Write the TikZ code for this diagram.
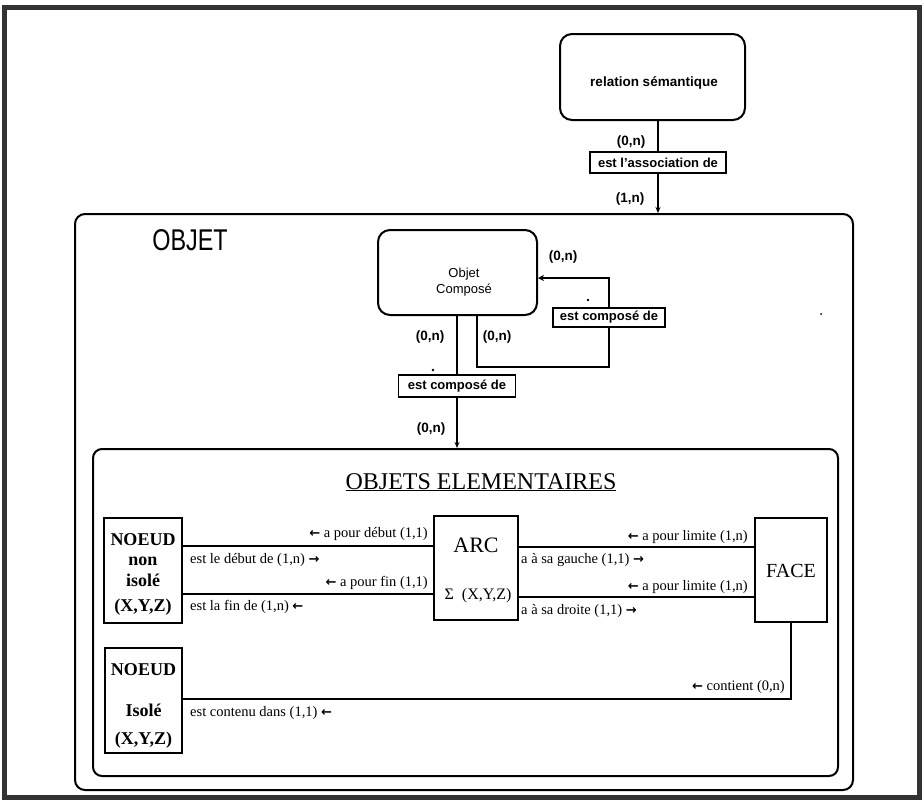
\documentclass[tikz,border=0pt]{standalone}
\usepackage{fontspec}
\usepackage{graphicx}
\setmainfont{Liberation Serif}
\setsansfont{Liberation Sans}
\newfontfamily\arrowfont{DejaVu Sans}
\usetikzlibrary{arrows.meta}
\newcommand{\lar}{{\arrowfont\bfseries\fontsize{13}{13}\selectfont ←}}
\newcommand{\rar}{{\arrowfont\bfseries\fontsize{13}{13}\selectfont →}}
\begin{document}
\begin{tikzpicture}[x=1pt,y=-1pt,
  rbox/.style={draw,line width=2pt,rounded corners=12pt,inner sep=0pt},
  sbox/.style={draw,line width=2.4pt,inner sep=0pt},
  relbox/.style={draw,line width=1.6pt,inner sep=0pt,font=\sffamily\bfseries\fontsize{13}{13}\selectfont},
  conn/.style={line width=1.8pt},
  tipd/.style={-{Stealth[length=6pt,width=5pt]}},
  sx/.style={font=\sffamily\bfseries\fontsize{13.5}{13.5}\selectfont,inner sep=0pt,anchor=base},
  smx/.style={font=\sffamily\fontsize{13}{13}\selectfont,inner sep=0pt,anchor=base},
  lbe/.style={font=\fontsize{14.5}{14.5}\selectfont,inner sep=0pt,anchor=base east},
  lbw/.style={font=\fontsize{14.5}{14.5}\selectfont,inner sep=0pt,anchor=base west},
  bt/.style={font=\bfseries\fontsize{18}{18}\selectfont,inner sep=0pt,anchor=base},
  st/.style={inner sep=0pt,anchor=base},
]
\useasboundingbox (0,0) rectangle (923,801);
\draw[line width=5pt,black!80] (4.5,7) rectangle (919.5,797);

% relation semantique
\node[rbox,minimum width=185pt,minimum height=86pt] (rel) at (652.5,77) {};
\node[sx] (relT) at (654,86) {relation sémantique};
\node[relbox,minimum width=136pt,minimum height=21pt] (assoc) at (658,162.5) {est l'association de};
\node[sx] (c1) at (631,145) {(0,n)};
\node[sx] (c2) at (630,202) {(1,n)};

% OBJET box
\node[rbox,rounded corners=10pt,minimum width=778pt,minimum height=576pt] (objet) at (464,502) {};
\node[st,font=\sffamily\fontsize{30}{30}\selectfont] (objT) at (190,250) {\scalebox{0.78}[1]{OBJET}};
\draw[conn] (assoc.north) -- (assoc.north |- rel.south);
\draw[conn,tipd] (assoc.south) -- (assoc.south |- objet.north);

% Objet compose
\node[rbox,minimum width=159pt,minimum height=85pt] (comp) at (457.5,272.5) {};
\node[smx] (compT1) at (464,277) {Objet};
\node[smx] (compT2) at (464,293) {Composé};
\node[relbox,minimum width=112pt,minimum height=19pt] (ecR) at (609,317.5) {est composé de};
\node[relbox,minimum width=117pt,minimum height=22pt] (ecL) at (457,386) {est composé de};
\node[sx] (c3) at (563,260) {(0,n)};
\node[sx] (c4) at (430,340) {(0,n)};
\node[sx] (c5) at (497,340) {(0,n)};
\node[sx] (c6) at (431,432) {(0,n)};
\fill (588,300) circle (1.3pt);
\fill (433,370) circle (1.3pt);
\fill (821,314) circle (1pt);

% inner box
\node[rbox,rounded corners=9pt,minimum width=745pt,minimum height=327pt] (inner) at (465.5,612.5) {};
\node[st,font=\fontsize{24}{24}\selectfont] (title) at (481,489) {\underline{OBJETS ELEMENTAIRES}};

\draw[conn,-{Stealth[length=6pt,width=6pt]}] (ecR.north) |- ([yshift=-5.5pt]comp.east);
\coordinate (lp) at (477,367);
\draw[conn] (ecR.south) |- (lp) -- (lp |- comp.south);
\draw[conn] (ecL.north) -- (ecL.north |- comp.south);
\draw[conn,tipd] (ecL.south) -- (ecL.south |- inner.north);

% elementary boxes
\node[sbox,minimum width=78pt,minimum height=105pt] (nn) at (143,570.5) {};
\node[sbox,minimum width=84pt,minimum height=104pt] (arc) at (476,568) {};
\node[sbox,minimum width=72pt,minimum height=104pt] (face) at (791,570) {};
\node[sbox,minimum width=77pt,minimum height=105pt] (ni) at (143.5,700.5) {};

\node[bt] (nn1) at (143,545) {NOEUD};
\node[bt] (nn2) at (143,565) {non};
\node[bt] (nn3) at (143,586) {isolé};
\node[bt] (nn4) at (143,611) {(X,Y,Z)};
\node[bt] (ni1) at (143.5,675) {NOEUD};
\node[bt] (ni2) at (143.5,716) {Isolé};
\node[bt] (ni3) at (143.5,744) {(X,Y,Z)};
\node[st,font=\fontsize{22}{22}\selectfont] (arcT) at (476,552) {ARC};
\node[st,font=\fontsize{16}{16}\selectfont] (arcS) at (478,599) {Σ\enspace(X,Y,Z)};
\node[st,font=\fontsize{20}{20}\selectfont] (faceT) at (791,577) {FACE};

\coordinate (ya) at (0,546);
\coordinate (yb) at (0,594);
\coordinate (yc) at (0,547);
\coordinate (yd) at (0,597);
\coordinate (ye) at (0,699);
\draw[conn] (nn.east |- ya) -- (arc.west |- ya);
\draw[conn] (nn.east |- yb) -- (arc.west |- yb);
\draw[conn] (arc.east |- yc) -- (face.west |- yc);
\draw[conn] (arc.east |- yd) -- (face.west |- yd);
\draw[conn] (ni.east |- ye) -| (face.south);

\node[lbe] (l1) at (428,537) {\lar{} a pour début (1,1)};
\node[lbw] (l2) at (190,563) {est le début de (1,n) \rar};
\node[lbe] (l3) at (428,586) {\lar{} a pour fin (1,1)};
\node[lbw] (l4) at (190,610) {est la fin de (1,n) \lar};
\node[lbe] (l5) at (748,540) {\lar{} a pour limite (1,n)};
\node[lbw] (l6) at (521,563) {a à sa gauche (1,1) \rar};
\node[lbe] (l7) at (748,590) {\lar{} a pour limite (1,n)};
\node[lbw] (l8) at (521,614) {a à sa droite (1,1) \rar};
\node[lbe] (l9) at (785,690) {\lar{} contient (0,n)};
\node[lbw] (l10) at (190,716) {est contenu dans (1,1) \lar};
\end{tikzpicture}
\end{document}
